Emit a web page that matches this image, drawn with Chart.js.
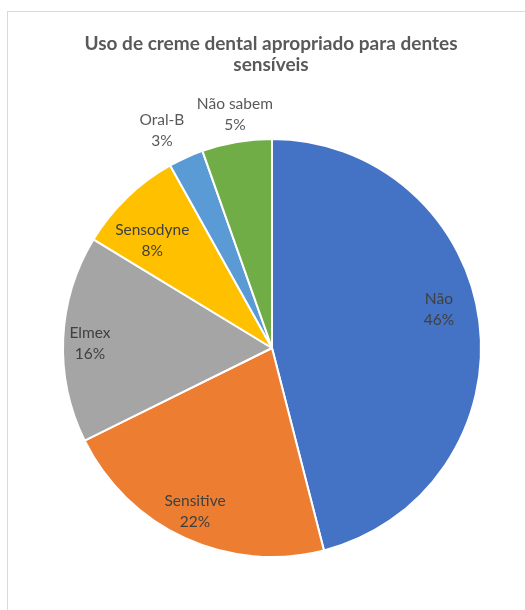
<!DOCTYPE html>
<html>
<head>
<meta charset="utf-8">
<script src="https://cdn.jsdelivr.net/npm/chart.js@4.4.0/dist/chart.umd.min.js"></script>
<style>
  body { margin: 0; background: #fff; overflow: hidden; }
  #frame { position: absolute; left: 7px; top: 11px; width: 540px; height: 620px; border: 1px solid #d9d9d9; }
  #chart { position: absolute; left: 0; top: 0; }
</style>
</head>
<body>
<div id="frame"></div>
<canvas id="chart" width="525" height="610"></canvas>
<script>
// data (percent of answers)
var titleLines = ['Uso de creme dental apropriado para dentes', 'sensíveis'];
var categories = ['Não', 'Sensitive', 'Elmex', 'Sensodyne', 'Oral-B', 'Não sabem'];
var shares = [46, 21.7, 16, 8.2, 2.7, 5.4];
var percentLabels = ['46%', '22%', '16%', '8%', '3%', '5%'];
var sliceColors = ['#4472C4', '#ED7D31', '#A5A5A5', '#FFC000', '#5B9BD5', '#70AD47'];

var FONT = 'Lato, "Open Sans", sans-serif';
// label placement: distance from centre (fraction of radius) and small angle nudge (deg)
var labelRadius = [0.82, 0.863, 0.871, 0.772, 1.168, 1.133];
var labelNudge = [-5.9, 0.6, -0.9, -4, -2.5, 0.7];

/**
* Draw the title and the data labels (Excel style: inside for big slices,
* outside for the small ones).
*/
var labelPlugin = {
    id: 'excelLabels',
    afterDraw: function(chart) {
        var ctx = chart.ctx;
        ctx.save();
        ctx.textAlign = 'center';
        ctx.textBaseline = 'middle';

        // title
        ctx.fillStyle = '#595959';
        ctx.font = 'bold 19px ' + FONT;
        ctx.fillText(titleLines[0], 271, 44);
        ctx.fillText(titleLines[1], 271, 65);

        var meta = chart.getDatasetMeta(0);
        meta.data.forEach(function(arc, i) {
            var mid = (arc.startAngle + arc.endAngle) / 2 + labelNudge[i] * Math.PI / 180;
            var outside = labelRadius[i] > 1;
            var r = arc.outerRadius * labelRadius[i];
            var x = arc.x + Math.cos(mid) * r;
            var y = arc.y + Math.sin(mid) * r;
            ctx.fillStyle = outside ? '#595959' : '#404040';
            ctx.font = '15.5px ' + FONT;
            ctx.fillText(categories[i], x, y - 10);
            ctx.fillText(percentLabels[i], x, y + 11);
        });
        ctx.restore();
    }
};

var ctx = document.getElementById('chart');
var myPieChart = new Chart(ctx, {
    type: 'pie',
    data: {
        labels: categories,
        datasets: [{
            data: shares,
            backgroundColor: sliceColors,
            borderColor: '#ffffff',
            borderWidth: 2
        }]
    },
    options: {
        responsive: false,
        animation: false,
        layout: { padding: { left: 62, top: 138, right: 43, bottom: 52 } },
        plugins: {
            legend: { display: false },
            tooltip: { enabled: false },
            title: { display: false }
        }
    },
    plugins: [labelPlugin]
});
</script>
</body>
</html>
